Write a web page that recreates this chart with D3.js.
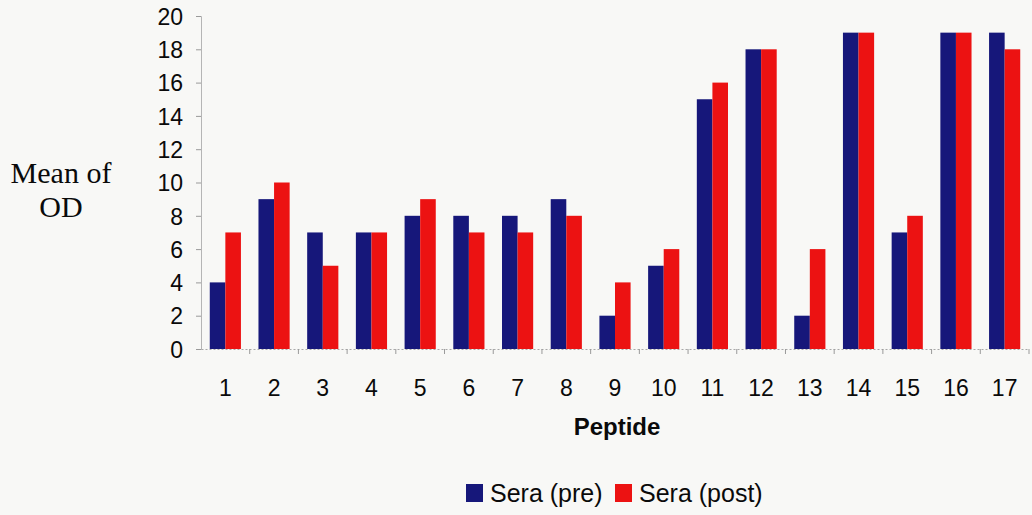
<!DOCTYPE html>
<html>
<head>
<meta charset="utf-8">
<script src="https://cdn.jsdelivr.net/npm/d3@7"></script>
<style>
  body { margin: 0; background: #f8f8f6; }
  svg { display: block; }
</style>
</head>
<body>
<script>
// chart data
var peptides = ["1","2","3","4","5","6","7","8","9","10","11","12","13","14","15","16","17"];
var seraPre  = [4, 9, 7, 7, 8, 8, 8, 9, 2, 5, 15, 18, 2, 19, 7, 19, 19];
var seraPost = [7, 10, 5, 7, 9, 7, 7, 8, 4, 6, 16, 18, 6, 19, 8, 19, 18];
var seriesNames = ["Sera (pre)", "Sera (post)"];
var yTicks = [0, 2, 4, 6, 8, 10, 12, 14, 16, 18, 20];

var svgWidth = 1032;
var svgHeight = 515;

// plot area edges
var plotLeft = 201, plotRight = 1029, plotTop = 16, plotBottom = 349;

var colors = ["#16177a", "#ec1212"];

var svg = d3.select("body")
    .append("svg")
    .attr("width", svgWidth)
    .attr("height", svgHeight);

var rows = peptides.map(function (p, i) {
  return { peptide: p, values: [seraPre[i], seraPost[i]] };
});

var xBand = d3.scaleBand()
    .domain(peptides)
    .range([plotLeft, plotRight]);

var bw = xBand.bandwidth();

var xInner = d3.scaleBand()
    .domain([0, 1])
    .range([bw * 0.18, bw * 0.82]);

var yScale = d3.scaleLinear()
    .domain([0, 20])
    .range([plotBottom, plotTop]);

// y axis
var leftAxis = d3.axisLeft(yScale).tickValues(yTicks).tickSize(5).tickPadding(13);
var yAxisG = svg.append("g")
    .attr("transform", `translate(${plotLeft}, 0)`)
    .call(leftAxis);
yAxisG.select(".domain").attr("stroke", "#b5b5b5");
yAxisG.selectAll(".tick line").attr("stroke", "#9a9a9a");
yAxisG.selectAll(".tick text")
    .attr("font-family", "Liberation Sans, Arial, sans-serif")
    .attr("font-size", 23)
    .attr("fill", "#0a0a0a")
    .attr("dy", "0.36em");

// bars
var groups = svg.selectAll(".grp")
    .data(rows)
    .enter()
    .append("g")
    .attr("class", "grp")
    .attr("transform", d => `translate(${xBand(d.peptide)}, 0)`);

groups.selectAll("rect")
    .data(d => d.values)
    .enter()
    .append("rect")
    .attr("x", (d, i) => xInner(i))
    .attr("y", d => yScale(d))
    .attr("width", xInner.bandwidth())
    .attr("height", d => plotBottom - yScale(d))
    .attr("fill", (d, i) => colors[i]);

// x axis: dotted line with ticks on category boundaries
var bottomAxis = d3.axisBottom(xBand).tickSize(0).tickPadding(31);
var xAxisG = svg.append("g")
    .attr("transform", `translate(0, ${plotBottom})`)
    .call(bottomAxis);
xAxisG.select(".domain")
    .attr("stroke", "#a8a8a8")
    .attr("stroke-dasharray", "2,2");
xAxisG.selectAll(".tick text")
    .attr("font-family", "Liberation Sans, Arial, sans-serif")
    .attr("font-size", 23)
    .attr("fill", "#0a0a0a");

xAxisG.selectAll(".bnd")
    .data(peptides)
    .enter()
    .append("line")
    .attr("x1", d => xBand(d) + bw)
    .attr("x2", d => xBand(d) + bw)
    .attr("y1", 0)
    .attr("y2", 5)
    .attr("stroke", "#9a9a9a");

// axis titles
svg.append("text")
    .attr("x", 617)
    .attr("y", 435)
    .attr("text-anchor", "middle")
    .attr("font-family", "Liberation Sans, Arial, sans-serif")
    .attr("font-weight", "bold")
    .attr("font-size", 24)
    .attr("fill", "#0a0a0a")
    .text("Peptide");

var yTitle = svg.append("text")
    .attr("font-family", "Liberation Serif, Times New Roman, serif")
    .attr("font-size", 30)
    .attr("fill", "#0a0a0a")
    .attr("text-anchor", "middle");
yTitle.append("tspan").attr("x", 61).attr("y", 183).text("Mean of");
yTitle.append("tspan").attr("x", 61).attr("y", 217).text("OD");

// legend
var legendX = [466, 615];
var legend = svg.selectAll(".leg")
    .data(seriesNames)
    .enter()
    .append("g")
    .attr("class", "leg")
    .attr("transform", (d, i) => `translate(${legendX[i]}, 484)`);

legend.append("rect")
    .attr("width", 17)
    .attr("height", 18)
    .attr("fill", (d, i) => colors[i]);

legend.append("text")
    .attr("x", 24)
    .attr("y", 18)
    .attr("font-family", "Liberation Sans, Arial, sans-serif")
    .attr("font-size", 25)
    .attr("fill", "#0a0a0a")
    .text(d => d);
</script>
</body>
</html>
